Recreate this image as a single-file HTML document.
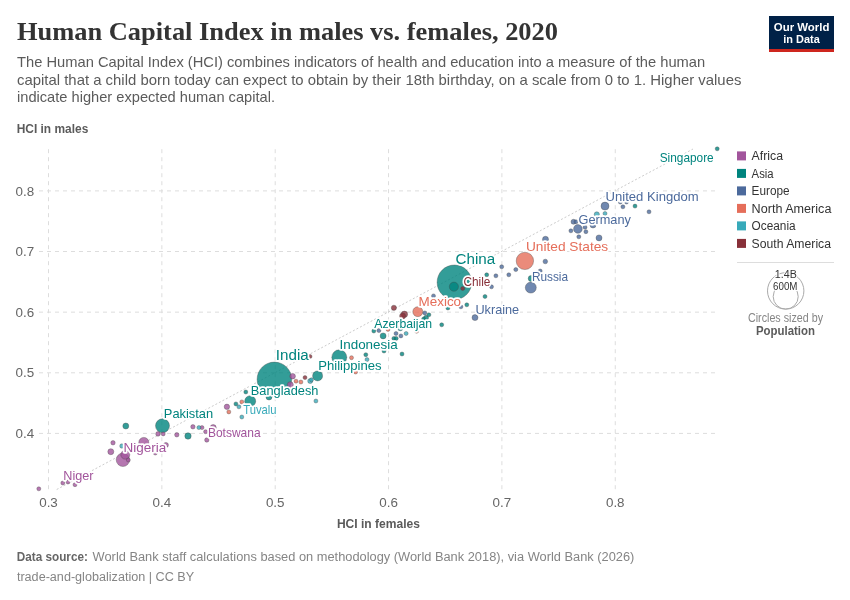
<!DOCTYPE html>
<html><head><meta charset="utf-8"><style>
html,body{margin:0;padding:0;background:#fff;}
svg{display:block;will-change:transform;font-family:"Liberation Sans",sans-serif;}
</style></head><body>
<svg width="850" height="600" viewBox="0 0 850 600">
<rect width="850" height="600" fill="#fff"/>
<text x="17" y="39.5" font-family="Liberation Serif" font-weight="bold" font-size="25" fill="#333" textLength="541" lengthAdjust="spacingAndGlyphs">Human Capital Index in males vs. females, 2020</text>
<g font-size="14.5" fill="#5b5b5b">
<text x="17" y="66.7" textLength="688.2" lengthAdjust="spacingAndGlyphs">The Human Capital Index (HCI) combines indicators of health and education into a measure of the human</text>
<text x="17" y="84.6" textLength="724.4" lengthAdjust="spacingAndGlyphs">capital that a child born today can expect to obtain by their 18th birthday, on a scale from 0 to 1. Higher values</text>
<text x="17" y="102.4" textLength="258" lengthAdjust="spacingAndGlyphs">indicate higher expected human capital.</text>
</g>
<rect x="769" y="16" width="65" height="33" fill="#002147"/>
<rect x="769" y="49" width="65" height="3" fill="#ce261e"/>
<text x="773.8" y="30.7" font-size="11.5" font-weight="bold" fill="#fff" textLength="55.6" lengthAdjust="spacingAndGlyphs">Our World</text>
<text x="783.3" y="42.6" font-size="11.5" font-weight="bold" fill="#fff" textLength="36.5" lengthAdjust="spacingAndGlyphs">in Data</text>
<text x="16.7" y="133" font-size="12.2" font-weight="bold" fill="#5b5b5b" textLength="71.6" lengthAdjust="spacingAndGlyphs">HCI in males</text>
<line x1="48.5" y1="149.2" x2="48.5" y2="489.2" stroke="#ddd" stroke-dasharray="4,4"/>
<line x1="161.85" y1="149.2" x2="161.85" y2="489.2" stroke="#ddd" stroke-dasharray="4,4"/>
<line x1="275.2" y1="149.2" x2="275.2" y2="489.2" stroke="#ddd" stroke-dasharray="4,4"/>
<line x1="388.55" y1="149.2" x2="388.55" y2="489.2" stroke="#ddd" stroke-dasharray="4,4"/>
<line x1="501.9" y1="149.2" x2="501.9" y2="489.2" stroke="#ddd" stroke-dasharray="4,4"/>
<line x1="615.25" y1="149.2" x2="615.25" y2="489.2" stroke="#ddd" stroke-dasharray="4,4"/>
<line x1="39" y1="190.9" x2="717" y2="190.9" stroke="#ddd" stroke-dasharray="4,4"/>
<line x1="39" y1="251.5" x2="717" y2="251.5" stroke="#ddd" stroke-dasharray="4,4"/>
<line x1="39" y1="312.15" x2="717" y2="312.15" stroke="#ddd" stroke-dasharray="4,4"/>
<line x1="39" y1="372.8" x2="717" y2="372.8" stroke="#ddd" stroke-dasharray="4,4"/>
<line x1="39" y1="433.4" x2="717" y2="433.4" stroke="#ddd" stroke-dasharray="4,4"/>
<line x1="56.7" y1="489.5" x2="693" y2="149" stroke="#ccc" stroke-dasharray="2,2"/>
<text x="48.5" y="507.2" text-anchor="middle" font-size="13.4" fill="#666">0.3</text>
<text x="161.85" y="507.2" text-anchor="middle" font-size="13.4" fill="#666">0.4</text>
<text x="275.2" y="507.2" text-anchor="middle" font-size="13.4" fill="#666">0.5</text>
<text x="388.55" y="507.2" text-anchor="middle" font-size="13.4" fill="#666">0.6</text>
<text x="501.9" y="507.2" text-anchor="middle" font-size="13.4" fill="#666">0.7</text>
<text x="615.25" y="507.2" text-anchor="middle" font-size="13.4" fill="#666">0.8</text>
<text x="34.2" y="195.5" text-anchor="end" font-size="13.4" fill="#666">0.8</text>
<text x="34.2" y="256.1" text-anchor="end" font-size="13.4" fill="#666">0.7</text>
<text x="34.2" y="316.75" text-anchor="end" font-size="13.4" fill="#666">0.6</text>
<text x="34.2" y="377.40000000000003" text-anchor="end" font-size="13.4" fill="#666">0.5</text>
<text x="34.2" y="438.0" text-anchor="end" font-size="13.4" fill="#666">0.4</text>
<text x="336.9" y="528.1" font-size="12.2" font-weight="bold" fill="#5b5b5b" textLength="83.1" lengthAdjust="spacingAndGlyphs">HCI in females</text>
<circle cx="274.4" cy="379.4" r="17.3" fill="#00847E" fill-opacity="0.8" stroke="#444" stroke-opacity="0.7" stroke-width="0.5"/>
<circle cx="454.4" cy="282.3" r="17.3" fill="#00847E" fill-opacity="0.8" stroke="#444" stroke-opacity="0.7" stroke-width="0.5"/>
<circle cx="524.9" cy="260.9" r="8.7" fill="#E56E5A" fill-opacity="0.8" stroke="#444" stroke-opacity="0.7" stroke-width="0.5"/>
<circle cx="339.3" cy="357.3" r="7.5" fill="#00847E" fill-opacity="0.8" stroke="#444" stroke-opacity="0.7" stroke-width="0.5"/>
<circle cx="162.5" cy="425.8" r="7" fill="#00847E" fill-opacity="0.8" stroke="#444" stroke-opacity="0.7" stroke-width="0.5"/>
<circle cx="122.9" cy="459.8" r="6.7" fill="#A2559C" fill-opacity="0.8" stroke="#444" stroke-opacity="0.7" stroke-width="0.5"/>
<circle cx="250.2" cy="401.2" r="5.5" fill="#00847E" fill-opacity="0.8" stroke="#444" stroke-opacity="0.7" stroke-width="0.5"/>
<circle cx="530.8" cy="287.6" r="5.5" fill="#4C6A9C" fill-opacity="0.8" stroke="#444" stroke-opacity="0.7" stroke-width="0.5"/>
<circle cx="143.8" cy="442.4" r="5" fill="#A2559C" fill-opacity="0.8" stroke="#444" stroke-opacity="0.7" stroke-width="0.5"/>
<circle cx="317.6" cy="375.9" r="5" fill="#00847E" fill-opacity="0.8" stroke="#444" stroke-opacity="0.7" stroke-width="0.5"/>
<circle cx="417.8" cy="311.7" r="5" fill="#E56E5A" fill-opacity="0.8" stroke="#444" stroke-opacity="0.7" stroke-width="0.5"/>
<circle cx="453.9" cy="286.7" r="4.6" fill="#00847E" fill-opacity="0.8" stroke="#444" stroke-opacity="0.7" stroke-width="0.5"/>
<circle cx="125.3" cy="454.7" r="4.5" fill="#A2559C" fill-opacity="0.8" stroke="#444" stroke-opacity="0.7" stroke-width="0.5"/>
<circle cx="577.9" cy="228.9" r="4.35" fill="#4C6A9C" fill-opacity="0.8" stroke="#444" stroke-opacity="0.7" stroke-width="0.5"/>
<circle cx="605" cy="206.1" r="4" fill="#4C6A9C" fill-opacity="0.8" stroke="#444" stroke-opacity="0.7" stroke-width="0.5"/>
<circle cx="188" cy="436" r="3.2" fill="#00847E" fill-opacity="0.8" stroke="#444" stroke-opacity="0.7" stroke-width="0.5"/>
<circle cx="404.4" cy="314.3" r="3.2" fill="#883039" fill-opacity="0.8" stroke="#444" stroke-opacity="0.7" stroke-width="0.5"/>
<circle cx="110.8" cy="451.7" r="3" fill="#A2559C" fill-opacity="0.8" stroke="#444" stroke-opacity="0.7" stroke-width="0.5"/>
<circle cx="213.2" cy="427.6" r="3" fill="#A2559C" fill-opacity="0.8" stroke="#444" stroke-opacity="0.7" stroke-width="0.5"/>
<circle cx="290.3" cy="384.7" r="3" fill="#A2559C" fill-opacity="0.8" stroke="#444" stroke-opacity="0.7" stroke-width="0.5"/>
<circle cx="125.8" cy="426" r="3" fill="#00847E" fill-opacity="0.8" stroke="#444" stroke-opacity="0.7" stroke-width="0.5"/>
<circle cx="269" cy="397" r="3" fill="#00847E" fill-opacity="0.8" stroke="#444" stroke-opacity="0.7" stroke-width="0.5"/>
<circle cx="383.1" cy="335.9" r="3" fill="#00847E" fill-opacity="0.8" stroke="#444" stroke-opacity="0.7" stroke-width="0.5"/>
<circle cx="531.2" cy="278.5" r="3" fill="#00847E" fill-opacity="0.8" stroke="#444" stroke-opacity="0.7" stroke-width="0.5"/>
<circle cx="475" cy="317.6" r="3" fill="#4C6A9C" fill-opacity="0.8" stroke="#444" stroke-opacity="0.7" stroke-width="0.5"/>
<circle cx="545.5" cy="239.3" r="3" fill="#4C6A9C" fill-opacity="0.8" stroke="#444" stroke-opacity="0.7" stroke-width="0.5"/>
<circle cx="593" cy="225" r="3" fill="#4C6A9C" fill-opacity="0.8" stroke="#444" stroke-opacity="0.7" stroke-width="0.5"/>
<circle cx="599" cy="237.9" r="3" fill="#4C6A9C" fill-opacity="0.8" stroke="#444" stroke-opacity="0.7" stroke-width="0.5"/>
<circle cx="402.6" cy="316" r="3" fill="#883039" fill-opacity="0.8" stroke="#444" stroke-opacity="0.7" stroke-width="0.5"/>
<circle cx="292.6" cy="376.2" r="2.8" fill="#A2559C" fill-opacity="0.8" stroke="#444" stroke-opacity="0.7" stroke-width="0.5"/>
<circle cx="226.9" cy="406.8" r="2.7" fill="#A2559C" fill-opacity="0.8" stroke="#444" stroke-opacity="0.7" stroke-width="0.5"/>
<circle cx="596.8" cy="214.4" r="2.6" fill="#38AABA" fill-opacity="0.8" stroke="#444" stroke-opacity="0.7" stroke-width="0.5"/>
<circle cx="393.9" cy="307.8" r="2.6" fill="#883039" fill-opacity="0.8" stroke="#444" stroke-opacity="0.7" stroke-width="0.5"/>
<circle cx="165.9" cy="445" r="2.5" fill="#A2559C" fill-opacity="0.8" stroke="#444" stroke-opacity="0.7" stroke-width="0.5"/>
<circle cx="426" cy="317.8" r="2.5" fill="#00847E" fill-opacity="0.8" stroke="#444" stroke-opacity="0.7" stroke-width="0.5"/>
<circle cx="400.3" cy="328.3" r="2.5" fill="#00847E" fill-opacity="0.8" stroke="#444" stroke-opacity="0.7" stroke-width="0.5"/>
<circle cx="573.5" cy="221.8" r="2.5" fill="#4C6A9C" fill-opacity="0.8" stroke="#444" stroke-opacity="0.7" stroke-width="0.5"/>
<circle cx="310.2" cy="381" r="2.5" fill="#38AABA" fill-opacity="0.8" stroke="#444" stroke-opacity="0.7" stroke-width="0.5"/>
<circle cx="158" cy="433.9" r="2.3" fill="#A2559C" fill-opacity="0.8" stroke="#444" stroke-opacity="0.7" stroke-width="0.5"/>
<circle cx="545.3" cy="261.5" r="2.3" fill="#4C6A9C" fill-opacity="0.8" stroke="#444" stroke-opacity="0.7" stroke-width="0.5"/>
<circle cx="113" cy="442.8" r="2.2" fill="#A2559C" fill-opacity="0.8" stroke="#444" stroke-opacity="0.7" stroke-width="0.5"/>
<circle cx="176.8" cy="434.8" r="2.2" fill="#A2559C" fill-opacity="0.8" stroke="#444" stroke-opacity="0.7" stroke-width="0.5"/>
<circle cx="192.9" cy="426.8" r="2.2" fill="#A2559C" fill-opacity="0.8" stroke="#444" stroke-opacity="0.7" stroke-width="0.5"/>
<circle cx="206.8" cy="440" r="2.2" fill="#A2559C" fill-opacity="0.8" stroke="#444" stroke-opacity="0.7" stroke-width="0.5"/>
<circle cx="121.9" cy="446" r="2.2" fill="#38AABA" fill-opacity="0.8" stroke="#444" stroke-opacity="0.7" stroke-width="0.5"/>
<circle cx="38.8" cy="488.8" r="2" fill="#A2559C" fill-opacity="0.8" stroke="#444" stroke-opacity="0.7" stroke-width="0.5"/>
<circle cx="62.8" cy="483" r="2" fill="#A2559C" fill-opacity="0.8" stroke="#444" stroke-opacity="0.7" stroke-width="0.5"/>
<circle cx="68" cy="482" r="2" fill="#A2559C" fill-opacity="0.8" stroke="#444" stroke-opacity="0.7" stroke-width="0.5"/>
<circle cx="75" cy="484.7" r="2" fill="#A2559C" fill-opacity="0.8" stroke="#444" stroke-opacity="0.7" stroke-width="0.5"/>
<circle cx="155.3" cy="453" r="2" fill="#A2559C" fill-opacity="0.8" stroke="#444" stroke-opacity="0.7" stroke-width="0.5"/>
<circle cx="128.3" cy="460" r="2" fill="#A2559C" fill-opacity="0.8" stroke="#444" stroke-opacity="0.7" stroke-width="0.5"/>
<circle cx="163.2" cy="433.9" r="2" fill="#A2559C" fill-opacity="0.8" stroke="#444" stroke-opacity="0.7" stroke-width="0.5"/>
<circle cx="202" cy="427.6" r="2" fill="#A2559C" fill-opacity="0.8" stroke="#444" stroke-opacity="0.7" stroke-width="0.5"/>
<circle cx="205.6" cy="431.7" r="2" fill="#A2559C" fill-opacity="0.8" stroke="#444" stroke-opacity="0.7" stroke-width="0.5"/>
<circle cx="235.9" cy="403.9" r="2" fill="#00847E" fill-opacity="0.8" stroke="#444" stroke-opacity="0.7" stroke-width="0.5"/>
<circle cx="245.8" cy="392" r="2" fill="#00847E" fill-opacity="0.8" stroke="#444" stroke-opacity="0.7" stroke-width="0.5"/>
<circle cx="365.8" cy="354.7" r="2" fill="#00847E" fill-opacity="0.8" stroke="#444" stroke-opacity="0.7" stroke-width="0.5"/>
<circle cx="373.8" cy="331" r="2" fill="#00847E" fill-opacity="0.8" stroke="#444" stroke-opacity="0.7" stroke-width="0.5"/>
<circle cx="393.9" cy="338.4" r="2" fill="#00847E" fill-opacity="0.8" stroke="#444" stroke-opacity="0.7" stroke-width="0.5"/>
<circle cx="396.2" cy="338.4" r="2" fill="#00847E" fill-opacity="0.8" stroke="#444" stroke-opacity="0.7" stroke-width="0.5"/>
<circle cx="402" cy="354" r="2" fill="#00847E" fill-opacity="0.8" stroke="#444" stroke-opacity="0.7" stroke-width="0.5"/>
<circle cx="384" cy="351" r="2" fill="#00847E" fill-opacity="0.8" stroke="#444" stroke-opacity="0.7" stroke-width="0.5"/>
<circle cx="428.9" cy="314.8" r="2" fill="#00847E" fill-opacity="0.8" stroke="#444" stroke-opacity="0.7" stroke-width="0.5"/>
<circle cx="423.6" cy="319" r="2" fill="#00847E" fill-opacity="0.8" stroke="#444" stroke-opacity="0.7" stroke-width="0.5"/>
<circle cx="441.7" cy="324.8" r="2" fill="#00847E" fill-opacity="0.8" stroke="#444" stroke-opacity="0.7" stroke-width="0.5"/>
<circle cx="486.7" cy="274.8" r="2" fill="#00847E" fill-opacity="0.8" stroke="#444" stroke-opacity="0.7" stroke-width="0.5"/>
<circle cx="485" cy="296.5" r="2" fill="#00847E" fill-opacity="0.8" stroke="#444" stroke-opacity="0.7" stroke-width="0.5"/>
<circle cx="466.8" cy="304.8" r="2" fill="#00847E" fill-opacity="0.8" stroke="#444" stroke-opacity="0.7" stroke-width="0.5"/>
<circle cx="447.9" cy="308" r="2" fill="#00847E" fill-opacity="0.8" stroke="#444" stroke-opacity="0.7" stroke-width="0.5"/>
<circle cx="635" cy="206.1" r="2" fill="#00847E" fill-opacity="0.8" stroke="#444" stroke-opacity="0.7" stroke-width="0.5"/>
<circle cx="717.2" cy="148.8" r="2" fill="#00847E" fill-opacity="0.8" stroke="#444" stroke-opacity="0.7" stroke-width="0.5"/>
<circle cx="378.9" cy="330.6" r="2" fill="#4C6A9C" fill-opacity="0.8" stroke="#444" stroke-opacity="0.7" stroke-width="0.5"/>
<circle cx="396" cy="333.5" r="2" fill="#4C6A9C" fill-opacity="0.8" stroke="#444" stroke-opacity="0.7" stroke-width="0.5"/>
<circle cx="400.9" cy="335.9" r="2" fill="#4C6A9C" fill-opacity="0.8" stroke="#444" stroke-opacity="0.7" stroke-width="0.5"/>
<circle cx="424.8" cy="312.9" r="2" fill="#4C6A9C" fill-opacity="0.8" stroke="#444" stroke-opacity="0.7" stroke-width="0.5"/>
<circle cx="433.5" cy="295.9" r="2" fill="#4C6A9C" fill-opacity="0.8" stroke="#444" stroke-opacity="0.7" stroke-width="0.5"/>
<circle cx="460.9" cy="306.8" r="2" fill="#4C6A9C" fill-opacity="0.8" stroke="#444" stroke-opacity="0.7" stroke-width="0.5"/>
<circle cx="491.5" cy="286.8" r="2" fill="#4C6A9C" fill-opacity="0.8" stroke="#444" stroke-opacity="0.7" stroke-width="0.5"/>
<circle cx="495.9" cy="275.8" r="2" fill="#4C6A9C" fill-opacity="0.8" stroke="#444" stroke-opacity="0.7" stroke-width="0.5"/>
<circle cx="501.7" cy="266.8" r="2" fill="#4C6A9C" fill-opacity="0.8" stroke="#444" stroke-opacity="0.7" stroke-width="0.5"/>
<circle cx="508.8" cy="274.8" r="2" fill="#4C6A9C" fill-opacity="0.8" stroke="#444" stroke-opacity="0.7" stroke-width="0.5"/>
<circle cx="515.8" cy="269.6" r="2" fill="#4C6A9C" fill-opacity="0.8" stroke="#444" stroke-opacity="0.7" stroke-width="0.5"/>
<circle cx="540.2" cy="271" r="2" fill="#4C6A9C" fill-opacity="0.8" stroke="#444" stroke-opacity="0.7" stroke-width="0.5"/>
<circle cx="570.9" cy="230.8" r="2" fill="#4C6A9C" fill-opacity="0.8" stroke="#444" stroke-opacity="0.7" stroke-width="0.5"/>
<circle cx="576" cy="221.8" r="2" fill="#4C6A9C" fill-opacity="0.8" stroke="#444" stroke-opacity="0.7" stroke-width="0.5"/>
<circle cx="585.9" cy="231.7" r="2" fill="#4C6A9C" fill-opacity="0.8" stroke="#444" stroke-opacity="0.7" stroke-width="0.5"/>
<circle cx="585" cy="227.3" r="2" fill="#4C6A9C" fill-opacity="0.8" stroke="#444" stroke-opacity="0.7" stroke-width="0.5"/>
<circle cx="578.8" cy="236.8" r="2" fill="#4C6A9C" fill-opacity="0.8" stroke="#444" stroke-opacity="0.7" stroke-width="0.5"/>
<circle cx="622.9" cy="206.8" r="2" fill="#4C6A9C" fill-opacity="0.8" stroke="#444" stroke-opacity="0.7" stroke-width="0.5"/>
<circle cx="620.3" cy="202" r="2" fill="#4C6A9C" fill-opacity="0.8" stroke="#444" stroke-opacity="0.7" stroke-width="0.5"/>
<circle cx="626.5" cy="202" r="2" fill="#4C6A9C" fill-opacity="0.8" stroke="#444" stroke-opacity="0.7" stroke-width="0.5"/>
<circle cx="649" cy="211.8" r="2" fill="#4C6A9C" fill-opacity="0.8" stroke="#444" stroke-opacity="0.7" stroke-width="0.5"/>
<circle cx="228.8" cy="411.9" r="2" fill="#E56E5A" fill-opacity="0.8" stroke="#444" stroke-opacity="0.7" stroke-width="0.5"/>
<circle cx="241.8" cy="401.9" r="2" fill="#E56E5A" fill-opacity="0.8" stroke="#444" stroke-opacity="0.7" stroke-width="0.5"/>
<circle cx="296" cy="381.2" r="2" fill="#E56E5A" fill-opacity="0.8" stroke="#444" stroke-opacity="0.7" stroke-width="0.5"/>
<circle cx="300.9" cy="382" r="2" fill="#E56E5A" fill-opacity="0.8" stroke="#444" stroke-opacity="0.7" stroke-width="0.5"/>
<circle cx="351.5" cy="357.7" r="2" fill="#E56E5A" fill-opacity="0.8" stroke="#444" stroke-opacity="0.7" stroke-width="0.5"/>
<circle cx="355.6" cy="372" r="2" fill="#E56E5A" fill-opacity="0.8" stroke="#444" stroke-opacity="0.7" stroke-width="0.5"/>
<circle cx="416.6" cy="331.2" r="2" fill="#E56E5A" fill-opacity="0.8" stroke="#444" stroke-opacity="0.7" stroke-width="0.5"/>
<circle cx="388" cy="329.4" r="2" fill="#E56E5A" fill-opacity="0.8" stroke="#444" stroke-opacity="0.7" stroke-width="0.5"/>
<circle cx="198.9" cy="427.6" r="2" fill="#38AABA" fill-opacity="0.8" stroke="#444" stroke-opacity="0.7" stroke-width="0.5"/>
<circle cx="238.9" cy="406.8" r="2" fill="#38AABA" fill-opacity="0.8" stroke="#444" stroke-opacity="0.7" stroke-width="0.5"/>
<circle cx="241.8" cy="417" r="2" fill="#38AABA" fill-opacity="0.8" stroke="#444" stroke-opacity="0.7" stroke-width="0.5"/>
<circle cx="315.9" cy="401" r="2" fill="#38AABA" fill-opacity="0.8" stroke="#444" stroke-opacity="0.7" stroke-width="0.5"/>
<circle cx="311.5" cy="379.8" r="2" fill="#38AABA" fill-opacity="0.8" stroke="#444" stroke-opacity="0.7" stroke-width="0.5"/>
<circle cx="367" cy="359.6" r="2" fill="#38AABA" fill-opacity="0.8" stroke="#444" stroke-opacity="0.7" stroke-width="0.5"/>
<circle cx="406.1" cy="333.5" r="2" fill="#38AABA" fill-opacity="0.8" stroke="#444" stroke-opacity="0.7" stroke-width="0.5"/>
<circle cx="605" cy="213.5" r="2" fill="#38AABA" fill-opacity="0.8" stroke="#444" stroke-opacity="0.7" stroke-width="0.5"/>
<circle cx="462.7" cy="288.5" r="2" fill="#883039" fill-opacity="0.8" stroke="#444" stroke-opacity="0.7" stroke-width="0.5"/>
<circle cx="305" cy="377.6" r="2" fill="#883039" fill-opacity="0.8" stroke="#444" stroke-opacity="0.7" stroke-width="0.5"/>
<circle cx="310" cy="356.5" r="2" fill="#883039" fill-opacity="0.8" stroke="#444" stroke-opacity="0.7" stroke-width="0.5"/>
<text x="659.7" y="161.8" textLength="54" lengthAdjust="spacingAndGlyphs" fill="#00847E" font-size="13" stroke="#fff" stroke-width="3.5" stroke-linejoin="round" paint-order="stroke">Singapore</text>
<text x="605.6" y="201.1" textLength="93" lengthAdjust="spacingAndGlyphs" fill="#4C6A9C" font-size="13" stroke="#fff" stroke-width="3.5" stroke-linejoin="round" paint-order="stroke">United Kingdom</text>
<text x="578.5" y="223.7" textLength="52.4" lengthAdjust="spacingAndGlyphs" fill="#4C6A9C" font-size="13" stroke="#fff" stroke-width="3.5" stroke-linejoin="round" paint-order="stroke">Germany</text>
<text x="525.9" y="250.7" textLength="82.3" lengthAdjust="spacingAndGlyphs" fill="#E56E5A" font-size="13" stroke="#fff" stroke-width="3.5" stroke-linejoin="round" paint-order="stroke">United States</text>
<text x="455.5" y="263.5" textLength="39.7" lengthAdjust="spacingAndGlyphs" fill="#00847E" font-size="15.5" stroke="#fff" stroke-width="3.5" stroke-linejoin="round" paint-order="stroke">China</text>
<text x="463.4" y="286.0" textLength="27" lengthAdjust="spacingAndGlyphs" fill="#883039" font-size="13" stroke="#fff" stroke-width="3.5" stroke-linejoin="round" paint-order="stroke">Chile</text>
<text x="531.9" y="281.1" textLength="36.2" lengthAdjust="spacingAndGlyphs" fill="#4C6A9C" font-size="13" stroke="#fff" stroke-width="3.5" stroke-linejoin="round" paint-order="stroke">Russia</text>
<text x="418.5" y="306.1" textLength="42.6" lengthAdjust="spacingAndGlyphs" fill="#E56E5A" font-size="13" stroke="#fff" stroke-width="3.5" stroke-linejoin="round" paint-order="stroke">Mexico</text>
<text x="475.4" y="313.7" textLength="43.8" lengthAdjust="spacingAndGlyphs" fill="#4C6A9C" font-size="13" stroke="#fff" stroke-width="3.5" stroke-linejoin="round" paint-order="stroke">Ukraine</text>
<text x="374.3" y="328.1" textLength="57.8" lengthAdjust="spacingAndGlyphs" fill="#00847E" font-size="13" stroke="#fff" stroke-width="3.5" stroke-linejoin="round" paint-order="stroke">Azerbaijan</text>
<text x="339.5" y="349.0" textLength="58.2" lengthAdjust="spacingAndGlyphs" fill="#00847E" font-size="13" stroke="#fff" stroke-width="3.5" stroke-linejoin="round" paint-order="stroke">Indonesia</text>
<text x="275.8" y="360.4" textLength="32.9" lengthAdjust="spacingAndGlyphs" fill="#00847E" font-size="15.5" stroke="#fff" stroke-width="3.5" stroke-linejoin="round" paint-order="stroke">India</text>
<text x="318.3" y="369.7" textLength="63.3" lengthAdjust="spacingAndGlyphs" fill="#00847E" font-size="13" stroke="#fff" stroke-width="3.5" stroke-linejoin="round" paint-order="stroke">Philippines</text>
<text x="250.8" y="394.9" textLength="67.6" lengthAdjust="spacingAndGlyphs" fill="#00847E" font-size="13" stroke="#fff" stroke-width="3.5" stroke-linejoin="round" paint-order="stroke">Bangladesh</text>
<text x="163.8" y="418.1" textLength="49.4" lengthAdjust="spacingAndGlyphs" fill="#00847E" font-size="13" stroke="#fff" stroke-width="3.5" stroke-linejoin="round" paint-order="stroke">Pakistan</text>
<text x="243.3" y="413.8" textLength="33.3" lengthAdjust="spacingAndGlyphs" fill="#38AABA" font-size="13" stroke="#fff" stroke-width="3.5" stroke-linejoin="round" paint-order="stroke">Tuvalu</text>
<text x="207.9" y="437.0" textLength="52.7" lengthAdjust="spacingAndGlyphs" fill="#A2559C" font-size="13" stroke="#fff" stroke-width="3.5" stroke-linejoin="round" paint-order="stroke">Botswana</text>
<text x="123.5" y="451.7" textLength="42.7" lengthAdjust="spacingAndGlyphs" fill="#A2559C" font-size="13" stroke="#fff" stroke-width="3.5" stroke-linejoin="round" paint-order="stroke">Nigeria</text>
<text x="63.3" y="480.2" textLength="30.3" lengthAdjust="spacingAndGlyphs" fill="#A2559C" font-size="13" stroke="#fff" stroke-width="3.5" stroke-linejoin="round" paint-order="stroke">Niger</text>
<rect x="737" y="151.4" width="9" height="9" fill="#A2559C"/>
<text x="751.6" y="160.2" font-size="12.5" fill="#333" textLength="31.4" lengthAdjust="spacingAndGlyphs">Africa</text>
<rect x="737" y="168.9" width="9" height="9" fill="#00847E"/>
<text x="751.6" y="177.7" font-size="12.5" fill="#333" textLength="22" lengthAdjust="spacingAndGlyphs">Asia</text>
<rect x="737" y="186.4" width="9" height="9" fill="#4C6A9C"/>
<text x="751.6" y="195.2" font-size="12.5" fill="#333" textLength="38" lengthAdjust="spacingAndGlyphs">Europe</text>
<rect x="737" y="203.9" width="9" height="9" fill="#E56E5A"/>
<text x="751.6" y="212.7" font-size="12.5" fill="#333" textLength="79.8" lengthAdjust="spacingAndGlyphs">North America</text>
<rect x="737" y="221.4" width="9" height="9" fill="#38AABA"/>
<text x="751.6" y="230.2" font-size="12.5" fill="#333" textLength="44" lengthAdjust="spacingAndGlyphs">Oceania</text>
<rect x="737" y="238.9" width="9" height="9" fill="#883039"/>
<text x="751.6" y="247.7" font-size="12.5" fill="#333" textLength="79.4" lengthAdjust="spacingAndGlyphs">South America</text>
<line x1="737" y1="262.5" x2="834" y2="262.5" stroke="#ddd"/>
<circle cx="785.7" cy="290.9" r="18.2" fill="none" stroke="#aaa" stroke-width="1"/>
<circle cx="785.7" cy="296.6" r="12.5" fill="none" stroke="#aaa" stroke-width="1"/>
<text x="785.8" y="278" font-size="10" text-anchor="middle" fill="#333" stroke="#fff" stroke-width="2" paint-order="stroke" textLength="22" lengthAdjust="spacingAndGlyphs">1.4B</text>
<text x="785.3" y="289.7" font-size="10" text-anchor="middle" fill="#333" stroke="#fff" stroke-width="2" paint-order="stroke" textLength="24.4" lengthAdjust="spacingAndGlyphs">600M</text>
<text x="748" y="321.6" font-size="12" fill="#858585" textLength="75" lengthAdjust="spacingAndGlyphs">Circles sized by</text>
<text x="756" y="335.3" font-size="12" font-weight="bold" fill="#5b5b5b" textLength="59" lengthAdjust="spacingAndGlyphs">Population</text>
<text x="16.8" y="560.8" font-size="12.5" font-weight="bold" fill="#666" textLength="71.1" lengthAdjust="spacingAndGlyphs">Data source:</text>
<text x="92.6" y="560.8" font-size="12.5" fill="#858585" textLength="541.8" lengthAdjust="spacingAndGlyphs">World Bank staff calculations based on methodology (World Bank 2018), via World Bank (2026)</text>
<text x="16.9" y="581" font-size="12.5" fill="#858585" textLength="177.2" lengthAdjust="spacingAndGlyphs">trade-and-globalization | CC BY</text>
</svg>
</body></html>
